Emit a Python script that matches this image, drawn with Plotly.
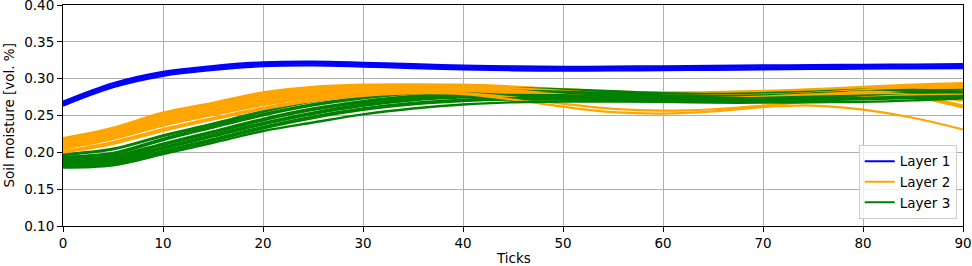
import plotly.graph_objects as go

ticks = [0, 5, 10, 15, 20, 25, 30, 35, 40, 45, 50, 55, 60, 65, 70, 75, 80, 85, 90]

# Layer 1 ensemble (blue)
layer1_a = [0.2685, 0.2935, 0.3090, 0.3170, 0.3220, 0.3230, 0.3215, 0.3195, 0.3177, 0.3165, 0.3160, 0.3162, 0.3167, 0.3172, 0.3178, 0.3183, 0.3187, 0.3191, 0.3195]
layer1_b = [0.2660, 0.2910, 0.3065, 0.3145, 0.3195, 0.3205, 0.3190, 0.3170, 0.3152, 0.3140, 0.3135, 0.3137, 0.3142, 0.3147, 0.3153, 0.3158, 0.3162, 0.3166, 0.3170]
layer1_c = [0.2635, 0.2885, 0.3040, 0.3120, 0.3170, 0.3180, 0.3165, 0.3145, 0.3127, 0.3115, 0.3110, 0.3112, 0.3117, 0.3122, 0.3128, 0.3133, 0.3137, 0.3141, 0.3145]

# Layer 2 ensemble (orange)
layer2_a = [0.2180, 0.2320, 0.2525, 0.2660, 0.2800, 0.2875, 0.2905, 0.2910, 0.2905, 0.2880, 0.2845, 0.2815, 0.2800, 0.2805, 0.2820, 0.2845, 0.2875, 0.2905, 0.2925]
layer2_b = [0.2140, 0.2280, 0.2475, 0.2620, 0.2755, 0.2840, 0.2880, 0.2890, 0.2885, 0.2860, 0.2820, 0.2780, 0.2755, 0.2755, 0.2770, 0.2795, 0.2835, 0.2875, 0.2890]
layer2_c = [0.2100, 0.2235, 0.2425, 0.2570, 0.2705, 0.2800, 0.2855, 0.2870, 0.2865, 0.2830, 0.2775, 0.2730, 0.2705, 0.2705, 0.2725, 0.2760, 0.2810, 0.2785, 0.2715]
layer2_d = [0.2060, 0.2195, 0.2375, 0.2520, 0.2655, 0.2755, 0.2820, 0.2845, 0.2845, 0.2815, 0.2770, 0.2735, 0.2720, 0.2725, 0.2745, 0.2775, 0.2800, 0.2765, 0.2620]
layer2_e = [0.2015, 0.2140, 0.2315, 0.2465, 0.2605, 0.2715, 0.2785, 0.2815, 0.2805, 0.2745, 0.2660, 0.2590, 0.2565, 0.2585, 0.2635, 0.2690, 0.2745, 0.2780, 0.2785]
layer2_f = [0.1995, 0.2115, 0.2290, 0.2445, 0.2585, 0.2695, 0.2765, 0.2800, 0.2790, 0.2715, 0.2620, 0.2545, 0.2525, 0.2555, 0.2615, 0.2635, 0.2580, 0.2470, 0.2310]

# Layer 3 ensemble (green)
layer3_a = [0.1970, 0.2045, 0.2225, 0.2385, 0.2555, 0.2695, 0.2790, 0.2845, 0.2865, 0.2865, 0.2850, 0.2825, 0.2800, 0.2790, 0.2800, 0.2820, 0.2845, 0.2865, 0.2865]
layer3_b = [0.1935, 0.1985, 0.2175, 0.2345, 0.2510, 0.2645, 0.2740, 0.2805, 0.2830, 0.2830, 0.2815, 0.2790, 0.2765, 0.2755, 0.2765, 0.2790, 0.2820, 0.2840, 0.2820]
layer3_c = [0.1900, 0.1940, 0.2110, 0.2275, 0.2445, 0.2585, 0.2685, 0.2755, 0.2790, 0.2795, 0.2785, 0.2765, 0.2745, 0.2735, 0.2745, 0.2765, 0.2785, 0.2800, 0.2785]
layer3_d = [0.1860, 0.1895, 0.2060, 0.2225, 0.2390, 0.2530, 0.2640, 0.2715, 0.2755, 0.2770, 0.2765, 0.2750, 0.2735, 0.2725, 0.2730, 0.2745, 0.2760, 0.2770, 0.2765]
layer3_e = [0.1825, 0.1855, 0.2010, 0.2170, 0.2335, 0.2475, 0.2585, 0.2660, 0.2705, 0.2725, 0.2725, 0.2710, 0.2700, 0.2695, 0.2700, 0.2715, 0.2730, 0.2745, 0.2755]
layer3_f = [0.1795, 0.1825, 0.1975, 0.2130, 0.2290, 0.2405, 0.2515, 0.2595, 0.2650, 0.2680, 0.2690, 0.2690, 0.2685, 0.2675, 0.2675, 0.2680, 0.2685, 0.2705, 0.2735]

layer_names = ["Layer 1", "Layer 2", "Layer 3"]
layer_colors = ["#0000ff", "#ffa500", "#008000"]
x_tick_labels = [0, 10, 20, 30, 40, 50, 60, 70, 80, 90]
y_tick_labels = [0.10, 0.15, 0.20, 0.25, 0.30, 0.35, 0.40]

fig = go.Figure()

def add_member(y, color, width):
    fig.add_trace(go.Scatter(x=ticks, y=y, mode="lines", showlegend=False, hoverinfo="skip",
                             line=dict(color=color, width=width, shape="spline", smoothing=1.0)))

for y in [layer1_a, layer1_b, layer1_c]:
    add_member(y, layer_colors[0], 2.4)

orange = [(layer2_a, 4.2), (layer2_b, 4.2), (layer2_c, 4.0), (layer2_d, 4.0), (layer2_e, 2.2), (layer2_f, 2.2)]
green = [(layer3_a, 3.0), (layer3_b, 3.6), (layer3_c, 3.8), (layer3_d, 3.8), (layer3_e, 3.8), (layer3_f, 2.4)]
for (oy, ow), (gy, gw) in zip(orange, green):
    add_member(oy, layer_colors[1], ow)
    add_member(gy, layer_colors[2], gw)

for name, color in zip(layer_names, layer_colors):
    fig.add_trace(go.Scatter(x=[None], y=[None], mode="lines", name=name,
                             line=dict(color=color, width=2)))

FS = 13.5
axis_common = dict(showline=True, linecolor="black", linewidth=1, mirror=True,
                   ticks="outside", ticklen=5, tickcolor="black", tickwidth=1,
                   showgrid=True, gridcolor="#b0b0b0", gridwidth=1, zeroline=False,
                   automargin=False, ticklabeloverflow="allow",
                   tickfont=dict(family="DejaVu Sans", size=FS, color="black"))

plot_h = 266 - 5 - 40
fig.update_layout(
    width=972, height=266,
    margin=dict(l=63, r=9, t=5, b=40),
    plot_bgcolor="white", paper_bgcolor="white",
    font=dict(family="DejaVu Sans", size=FS, color="black"),
    xaxis=dict(range=[0, 90], tickvals=x_tick_labels, **axis_common),
    yaxis=dict(range=[0.10, 0.40], tickvals=y_tick_labels, tickformat=".2f", **axis_common),
    legend=dict(x=0.993, y=0.032, xanchor="right", yanchor="bottom",
                bgcolor="rgba(255,255,255,0.8)", bordercolor="#cccccc", borderwidth=1,
                font=dict(family="DejaVu Sans", size=FS, color="black"), tracegroupgap=0),
    annotations=[
        dict(text="Ticks", x=0.5, y=-(258 - 226) / plot_h, xref="paper", yref="paper", showarrow=False,
             font=dict(size=FS), xanchor="center", yanchor="middle", borderpad=0),
        dict(text="Soil moisture [vol. %]", x=-(63 - 8) / 900, y=0.5, xref="paper", yref="paper",
             showarrow=False, textangle=-90, font=dict(size=FS), xanchor="center", yanchor="middle"),
    ],
)

fig.write_html("out.html", config={"displayModeBar": False},
               post_script="document.body.style.margin='0';document.body.style.overflow='hidden';")
